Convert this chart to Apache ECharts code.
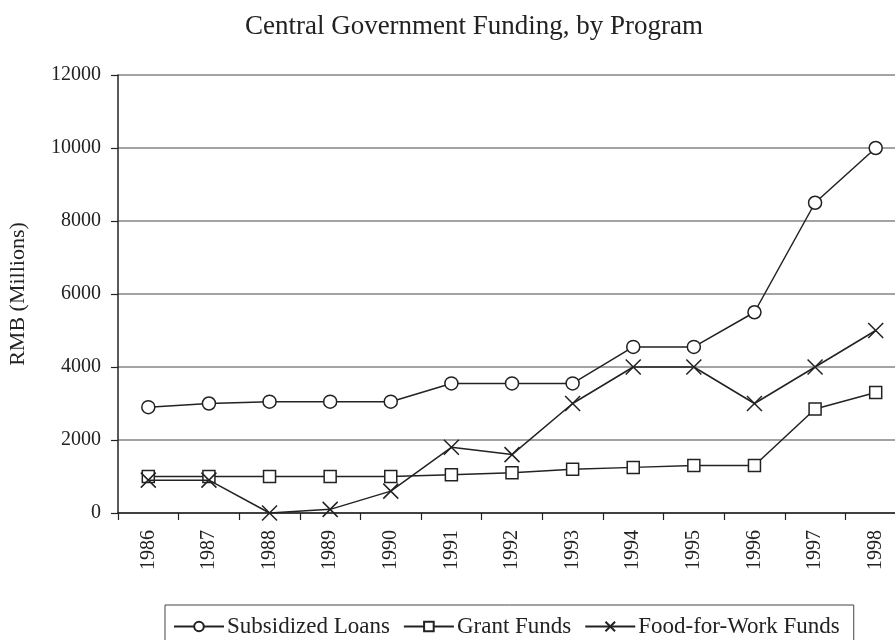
<!DOCTYPE html>
<html>
<head>
<meta charset="utf-8">
<style>
  html, body { margin: 0; padding: 0; background: #fff; }
  #chart { width: 895px; height: 640px; }
</style>
<script src="https://cdn.jsdelivr.net/npm/echarts@6/dist/echarts.min.js"></script>
</head>
<body>
<div id="chart"></div>
<script>
// Funding by program, RMB millions
const years = ['1986','1987','1988','1989','1990','1991','1992','1993','1994','1995','1996','1997','1998'];
const subsidizedLoans = [2900, 3000, 3050, 3050, 3050, 3550, 3550, 3550, 4550, 4550, 5500, 8500, 10000];
const grantFunds      = [1000, 1000, 1000, 1000, 1000, 1050, 1100, 1200, 1250, 1300, 1300, 2850, 3300];
const foodForWork     = [900, 900, 0, 100, 600, 1800, 1600, 3000, 4000, 4000, 3000, 4000, 5000];
const yTicks = { min: 0, max: 12000, step: 2000 };

const INK = '#222';
const FONT = '"Liberation Serif", "DejaVu Serif", serif';
const CROSS = 'path://M0,0L10,10M10,0L0,10';

function lineSeries(name, data, symbol, size) {
  return {
    name: name,
    type: 'line',
    data: data,
    symbol: symbol,
    symbolSize: size,
    showSymbol: true,
    lineStyle: { color: INK, width: 1.5 },
    itemStyle: { color: symbol === CROSS ? 'none' : '#fff', borderColor: INK, borderWidth: 1.5 },
    emphasis: { disabled: true },
    z: symbol === CROSS ? 3 : 2
  };
}

const chart = echarts.init(document.getElementById('chart'), null, { renderer: 'canvas' });
chart.setOption({
  animation: false,
  backgroundColor: '#fff',
  title: {
    text: 'Central Government Funding, by Program',
    left: 469,
    top: 8,
    textAlign: 'center',
    textStyle: { fontFamily: FONT, fontSize: 27, fontWeight: 'normal', color: INK }
  },
  // the plot runs past the right edge of the canvas
  grid: { left: 118, top: 75, width: 788, height: 438, outerBoundsMode: 'none', containLabel: false },
  legend: {
    left: 165,
    top: 605,
    padding: [10, 14, 12, 8],
    itemGap: 13,
    itemWidth: 50,
    itemHeight: 12,
    borderColor: '#444',
    borderWidth: 1,
    textStyle: { fontFamily: FONT, fontSize: 23, color: INK, padding: [0, 0, 0, -2] },
    data: ['Subsidized Loans', 'Grant Funds', 'Food-for-Work Funds']
  },
  xAxis: {
    type: 'category',
    data: years,
    boundaryGap: true,
    axisLine: { show: true, lineStyle: { color: INK, width: 1.5 } },
    axisTick: { show: true, length: 7, lineStyle: { color: INK, width: 1.2 } },
    axisLabel: { rotate: 90, margin: 17, fontFamily: FONT, fontSize: 20, color: INK },
    splitLine: { show: false }
  },
  yAxis: {
    type: 'value',
    min: yTicks.min,
    max: yTicks.max,
    interval: yTicks.step,
    name: 'RMB (Millions)',
    nameLocation: 'middle',
    nameGap: 89,
    nameRotate: 90,
    nameTextStyle: { fontFamily: FONT, fontSize: 22, color: INK },
    axisLine: { show: true, lineStyle: { color: INK, width: 1.5 } },
    axisTick: { show: true, length: 7, lineStyle: { color: INK, width: 1.2 } },
    axisLabel: { margin: 17, fontFamily: FONT, fontSize: 20, color: INK, formatter: v => String(v) },
    splitLine: { show: true, lineStyle: { color: '#858585', width: 1.5 } }
  },
  series: [
    lineSeries('Subsidized Loans', subsidizedLoans, 'circle', 13),
    lineSeries('Grant Funds', grantFunds, 'rect', 12),
    lineSeries('Food-for-Work Funds', foodForWork, CROSS, 15)
  ]
});
</script>
</body>
</html>
